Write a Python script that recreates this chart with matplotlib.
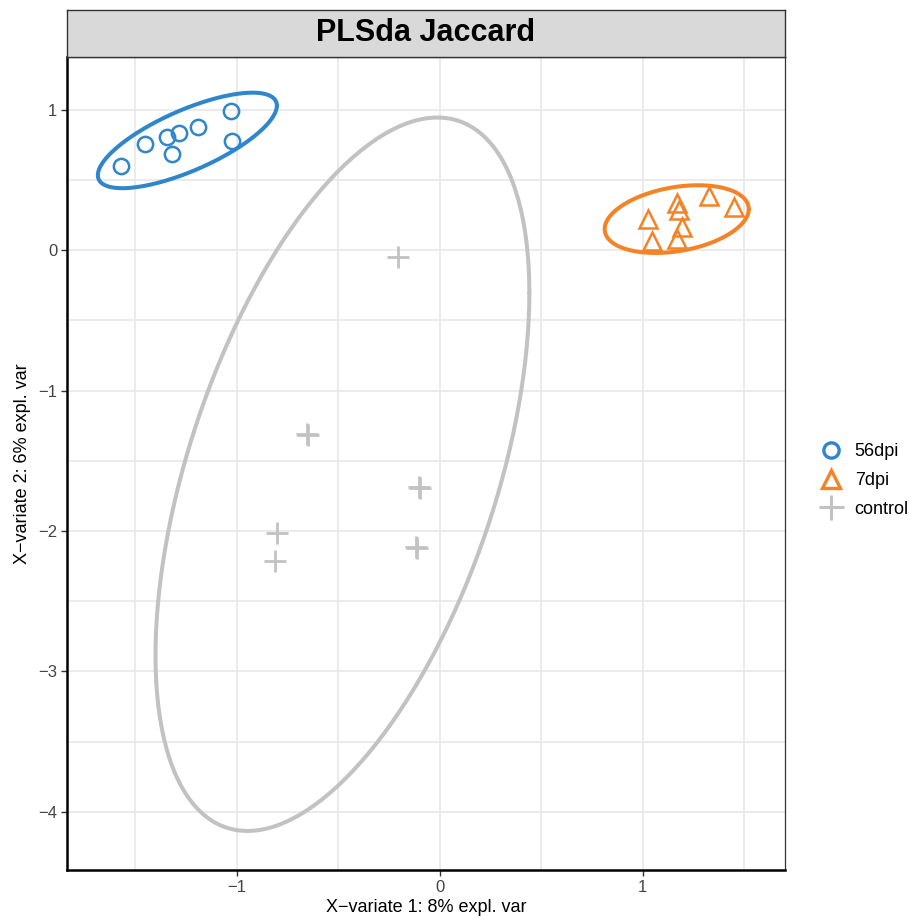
"""PLS-DA sample plot (Jaccard) redrawn with matplotlib
"""
import numpy as np
import matplotlib
matplotlib.use('Agg')
import matplotlib.pyplot as plt
from matplotlib.lines import Line2D

plt.rcParams['font.family'] = ['Liberation Sans', 'DejaVu Sans']

# sample scores
groups = ['56dpi', '7dpi', 'control']
x_56dpi = [-1.571, -1.453, -1.345, -1.286, -1.192, -1.030, -1.025, -1.320]
y_56dpi = [0.596, 0.752, 0.801, 0.830, 0.879, 0.993, 0.773, 0.681]
x_7dpi = [1.025, 1.167, 1.177, 1.325, 1.448, 1.192, 1.167, 1.044]
y_7dpi = [0.220, 0.333, 0.284, 0.383, 0.305, 0.163, 0.078, 0.064]
x_control = [-0.207, -0.650, -0.655, -0.103, -0.098, -0.113, -0.118, -0.803, -0.813]
y_control = [-0.050, -1.319, -1.312, -1.688, -1.695, -2.121, -2.115, -2.014, -2.213]

# confidence ellipses: centre x, centre y, half-width x, half-height y, correlation
ell_cx = [-1.244, 1.167, -0.480]
ell_cy = [0.780, 0.220, -1.596]
ell_sx = [0.441, 0.355, 0.921]
ell_sy = [0.340, 0.241, 2.539]
ell_rho = [0.727, 0.295, 0.508]

colors = ['#2F86CA', '#F48328', '#C2C2C2']

xticks = [-1, 0, 1]
yticks = [1, 0, -1, -2, -3, -4]


def ellipse_path(cx, cy, sx, sy, rho, n=300):
    """Points of an ellipse given by centre, spread and correlation"""
    t = np.linspace(0, 2 * np.pi, n)
    ex = cx + sx * np.cos(t)
    ey = cy + sy * (rho * np.cos(t) + np.sqrt(1 - rho ** 2) * np.sin(t))
    return ex, ey


fig = plt.figure(figsize=(9.18, 9.22), dpi=100)
ax = fig.add_axes([0.073, 0.0564, 0.782, 0.8818])

xs = [x_56dpi, x_7dpi, x_control]
ys = [y_56dpi, y_7dpi, y_control]

for i in range(3):
    ex, ey = ellipse_path(ell_cx[i], ell_cy[i], ell_sx[i], ell_sy[i], ell_rho[i])
    ax.plot(ex, ey, color=colors[i], lw=2.9, zorder=2,
            solid_capstyle='round', solid_joinstyle='round')

ax.plot(xs[0], ys[0], ls='none', marker='o', ms=11, mfc='none',
        mec=colors[0], mew=1.8, zorder=3)
ax.plot(xs[1], ys[1], ls='none', marker='^', ms=13, mfc='none',
        mec=colors[1], mew=1.8, zorder=3)
ax.plot(xs[2], ys[2], ls='none', marker='+', ms=16, mec=colors[2],
        mew=2.0, zorder=3)

ax.set_xlim(-1.837, 1.700)
ax.set_ylim(-4.413, 1.374)
ax.set_xticks(xticks)
ax.set_yticks(yticks)
ax.set_xticklabels(['\u22121', '0', '1'])
ax.set_yticklabels(['1', '0', '\u22121', '\u22122', '\u22123', '\u22124'])
ax.set_xticks(np.arange(-1.5, 1.6, 1.0), minor=True)
ax.set_yticks(np.arange(-4.0, 1.5, 0.5), minor=True)
ax.grid(True, which='both', color='#E8E8E8', lw=1.2, zorder=0)
ax.tick_params(which='minor', length=0)
ax.tick_params(which='major', length=4, width=1, color='#333333',
               labelsize=12, labelcolor='#444444', pad=3)
ax.set_axisbelow(True)

for side in ['top', 'right']:
    ax.spines[side].set_color('#333333')
    ax.spines[side].set_linewidth(0.9)
for side in ['left', 'bottom']:
    ax.spines[side].set_color('black')
    ax.spines[side].set_linewidth(1.8)

ax.set_xlabel('X\u2212variate 1: 8% expl. var', fontsize=13, labelpad=3)
ax.set_ylabel('X\u2212variate 2: 6% expl. var', fontsize=13, labelpad=5)

# facet strip with the title
strip = fig.add_axes([0.073, 0.9382, 0.782, 0.0510])
strip.set_facecolor('#D9D9D9')
strip.set_xticks([])
strip.set_yticks([])
for side in strip.spines.values():
    side.set_color('#333333')
    side.set_linewidth(1.0)
strip.text(0.5, 0.5, 'PLSda Jaccard', ha='center', va='center',
           fontsize=22, fontweight='bold', transform=strip.transAxes)

handles = [Line2D([], [], ls='none', marker='o', ms=11, mfc='none',
                  mec=colors[0], mew=2.4),
           Line2D([], [], ls='none', marker='^', ms=13, mfc='none',
                  mec=colors[1], mew=2.4),
           Line2D([], [], ls='none', marker='+', ms=18, mec=colors[2],
                  mew=2.2)]
fig.legend(handles, groups, loc='center left', bbox_to_anchor=(0.872, 0.479),
           frameon=False, fontsize=13, handletextpad=0.5, labelspacing=0.65,
           handlelength=1.6)

fig.savefig('out.png', dpi=100)
